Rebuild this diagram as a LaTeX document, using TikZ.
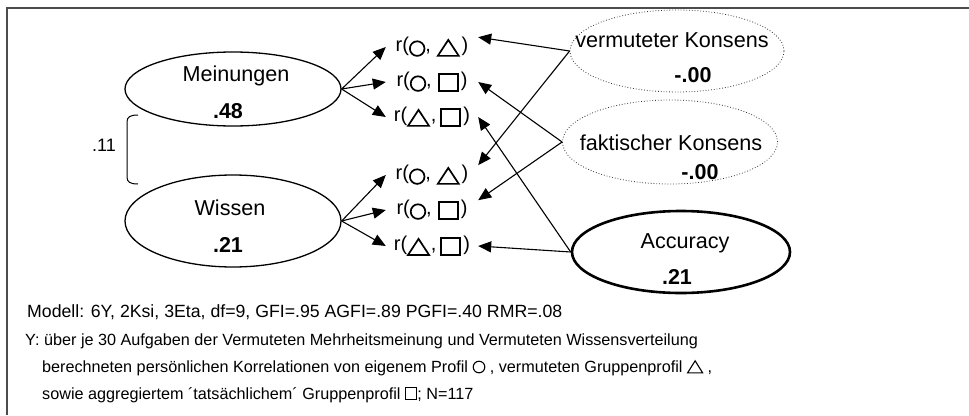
\documentclass[tikz,border=0pt]{standalone}
\usepackage{fontspec}
\setmainfont{Liberation Sans}
\usetikzlibrary{arrows.meta,shapes.geometric}
\newcommand{\bC}{\raisebox{-5pt}{\tikz[x=1pt,y=1pt]{\draw[line width=1.7pt] (7.8,7.5) circle[radius=7.3];\path (0,0) (16,15);}}}
\newcommand{\bT}{\raisebox{-5pt}{\tikz[x=1pt,y=1pt]{\draw[line width=1.7pt,line join=miter] (0,0)--(21,0)--(10.5,16)--cycle;}}}
\newcommand{\bS}{\raisebox{-5pt}{\tikz[x=1pt,y=1pt]{\draw[line width=2pt] (0,0) rectangle (19,17);}}}
\newcommand{\sC}{\raisebox{-1pt}{\tikz[x=1pt,y=1pt]{\draw[line width=1.1pt] (6,6) circle[radius=5.8];\path (0,0) (12,12);}}}
\newcommand{\sT}{\raisebox{-1pt}{\tikz[x=1pt,y=1pt]{\draw[line width=1.1pt,line join=miter] (0,0)--(15,0)--(7.5,12)--cycle;}}}
\newcommand{\sS}{\raisebox{-1pt}{\tikz[x=1pt,y=1pt]{\draw[line width=1.3pt] (0,0) rectangle (11,12);}}}
\newcommand{\rr}[2]{r(#1,\hspace{6pt}#2\hspace{2pt})}
\newcommand{\rrt}[2]{r(#1\hspace{1pt},\hspace{4pt}#2\hspace{2pt})}
\begin{document}
\begin{tikzpicture}[x=1pt,y=-1pt,
  every node/.style={inner sep=0pt},
  lat/.style={draw, ellipse, line width=1.3pt},
  dlat/.style={draw=black!80, ellipse, dotted, line width=0.8pt},
  lbl/.style={font=\fontsize{21.6}{24}\selectfont},
  val/.style={font=\fontsize{21.5}{24}\selectfont\bfseries},
  rnode/.style={minimum width=92pt, minimum height=24pt, font=\fontsize{20}{22}\selectfont},
  arr/.style={-{Triangle[length=13pt,width=11pt]}, line width=1.1pt},
  foot/.style={anchor=west, font=\fontsize{16.2}{19}\selectfont}
]
\useasboundingbox (0,0) rectangle (969,415);
\draw[line width=2pt, black!70] (6.5,415) -- (6.5,7.5) -- (969,7.5);

% latent variables
\node[lat, minimum width=216pt, minimum height=74pt] (M) at (233,89) {};
\node[lbl] (Mt) at (236,76) {Meinungen};
\node[val] (Mv) at (228,111) {.48};
\node[lat, minimum width=216pt, minimum height=92pt] (W) at (233,221) {};
\node[lbl] (Wt) at (230,208) {Wissen};
\node[val] (Wv) at (228,245) {.21};

\node[dlat, minimum width=214pt, minimum height=82pt] (V) at (677,51) {};
\node[lbl] (Vt) at (672,40) {vermuteter Konsens};
\node[val] (Vv) at (693,75) {-.00};
\node[dlat, minimum width=215pt, minimum height=84pt] (F) at (670,142) {};
\node[lbl] (Ft) at (671,143) {faktischer Konsens};
\node[val] (Fv) at (700,172) {-.00};
\node[draw, ellipse, line width=2.6pt, minimum width=218pt, minimum height=82pt] (A) at (681,252) {};
\node[lbl] (At) at (685,243) {Accuracy};
\node[val] (Av) at (677,277) {.21};

% correlation bracket
\node[font=\fontsize{18}{20}\selectfont] (c) at (104,145) {.11};
\draw[line width=1pt] (138,115) .. controls (130,115) and (127,117) .. (127,122) -- (127,177) .. controls (127,182) and (130,184) .. (138,184);

% indicators
\node[rnode] (r1) at (432,47) {\rr{\bC}{\bT}};
\node[rnode] (r2) at (432,82) {\rr{\bC}{\bS}};
\node[rnode] (r3) at (432,117) {\rrt{\bT}{\bS}};
\node[rnode] (r4) at (432,175) {\rr{\bC}{\bT}};
\node[rnode] (r5) at (432,210) {\rr{\bC}{\bS}};
\node[rnode] (r6) at (432,246) {\rrt{\bT}{\bS}};

\draw[arr] (M.east) -- (r1.west);
\draw[arr] (M.east) -- (r2.west);
\draw[arr] (M.east) -- (r3.west);
\draw[arr] (W.east) -- (r4.west);
\draw[arr] (W.east) -- (r5.west);
\draw[arr] (W.east) -- (r6.west);

\draw[arr] (V.west) -- (r1.12);
\draw[arr] (V.west) -- (r4.12);
\draw[arr] (F.west) -- (r2.east);
\draw[arr] (F.west) -- (r5.12);
\draw[arr] (A.west) -- (r3.east);
\draw[arr] (A.west) -- (r6.east);

% footnotes
\node[anchor=west, font=\fontsize{17.7}{20}\selectfont] (mod) at (27,312) {Modell: 6Y, 2Ksi, 3Eta, df=9, GFI=.95 AGFI=.89 PGFI=.40 RMR=.08};
\node[foot] (y1) at (25,341) {Y: über je 30 Aufgaben der Vermuteten Mehrheitsmeinung und Vermuteten Wissensverteilung};
\node[foot] (y2) at (42,368) {berechneten persönlichen Korrelationen von eigenem Profil \sC\ , vermuteten Gruppenprofil \sT\ ,};
\node[foot] (y3) at (42,395) {sowie aggregiertem ´tatsächlichem´ Gruppenprofil \sS; N=117};
\end{tikzpicture}
\end{document}
